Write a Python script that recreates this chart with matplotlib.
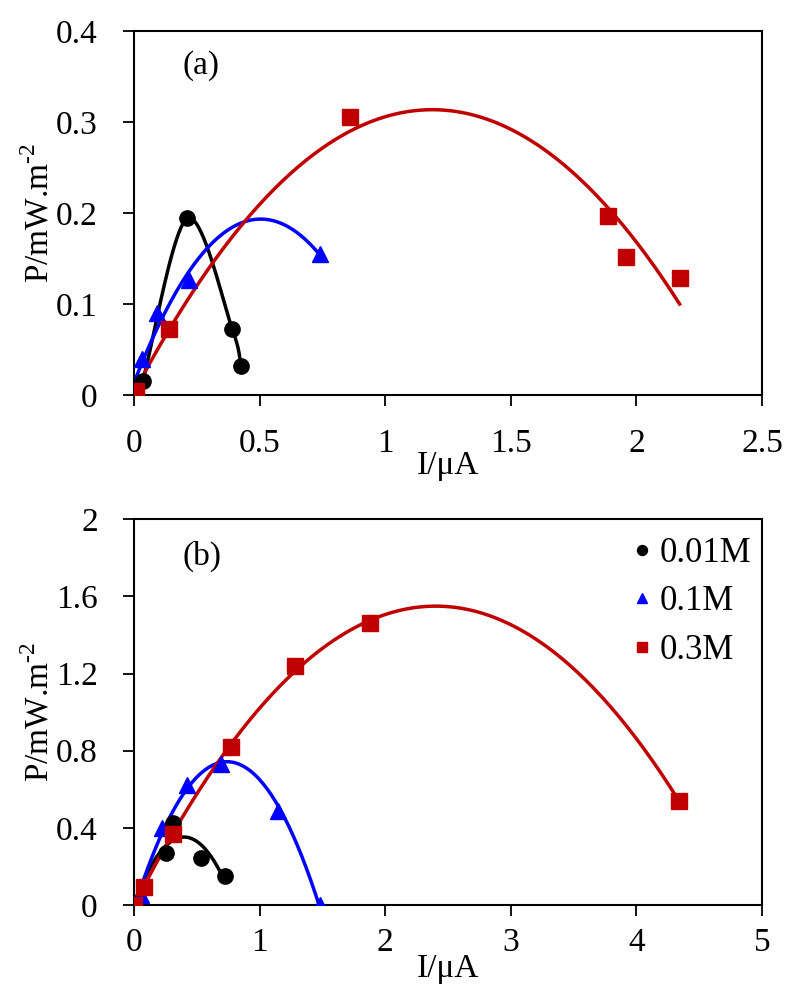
import numpy as np
import matplotlib
matplotlib.use("Agg")
import matplotlib.pyplot as plt

plt.rcParams['font.family'] = ['Liberation Serif', 'DejaVu Serif']
plt.rcParams['mathtext.fontset'] = 'custom'
plt.rcParams['mathtext.rm'] = 'Liberation Serif'

# ---- Panel (a) data ----
a_black_I = [0.0, 0.035, 0.212, 0.391, 0.425]
a_black_P = [0.0, 0.016, 0.194, 0.073, 0.032]
a_blue_I = [0.0, 0.031, 0.09, 0.22, 0.739]
a_blue_P = [0.0, 0.040, 0.090, 0.126, 0.155]
a_red_I = [0.0, 0.01, 0.139, 0.861, 1.887, 1.959, 2.172]
a_red_P = [0.0, 0.005, 0.073, 0.305, 0.197, 0.152, 0.129]

# ---- Panel (b) data ----
b_black_I = [0.0, 0.255, 0.31, 0.537, 0.724]
b_black_P = [0.0, 0.269, 0.425, 0.243, 0.148]
b_blue_I = [0.0, 0.06, 0.22, 0.42, 0.69, 1.15, 1.48]
b_blue_P = [0.0, 0.05, 0.40, 0.62, 0.73, 0.49, 0.0]
b_red_I = [0.0, 0.08, 0.31, 0.77, 1.28, 1.88, 4.34]
b_red_P = [0.0, 0.095, 0.37, 0.82, 1.24, 1.46, 0.54]

labels = ['0.01M', '0.1M', '0.3M']
colors = ['black', '#0000FF', '#C00000']
markers = ['o', '^', 's']

FS = 24

fig = plt.figure(figsize=(7.88, 9.93), dpi=100)
ax_a = fig.add_axes([0.170, 0.602, 0.797, 0.367])
ax_b = fig.add_axes([0.170, 0.0886, 0.797, 0.3884])


def smooth_line(I, P, n=40):
    """Excel-style smoothed line (Bezier through the points)."""
    pts = np.column_stack([I, P])
    ext = np.vstack([pts[0], pts, pts[-1]])
    out = []
    t = np.linspace(0, 1, n)[:, None]
    for k in range(1, len(ext) - 2):
        p0, p1, p2, p3 = ext[k - 1], ext[k], ext[k + 1], ext[k + 2]
        c1 = p1 + (p2 - p0) / 6.0
        c2 = p2 - (p3 - p1) / 6.0
        seg = ((1 - t) ** 3) * p1 + 3 * ((1 - t) ** 2) * t * c1 + 3 * (1 - t) * t ** 2 * c2 + t ** 3 * p2
        out.append(seg)
    out = np.vstack(out)
    return out[:, 0], out[:, 1]


def draw(ax, series, kinds):
    for (I, P), kind, c, m, lab in zip(series, kinds, colors, markers, labels):
        I = np.array(I); P = np.array(P)
        if kind == 'smooth':
            xs, ys = smooth_line(I, P)
        else:
            coef = np.polyfit(I, P, kind)
            xs = np.linspace(0, I.max(), 200)
            ys = np.polyval(coef, xs)
        ax.plot(xs, ys, color=c, lw=2.5, zorder=2)
        ax.plot(I, P, linestyle='none', marker=m, color=c, ms=11, zorder=3, label=lab)


draw(ax_a, [(a_black_I, a_black_P), (a_blue_I, a_blue_P), (a_red_I, a_red_P)], ['smooth', 2, 2])
draw(ax_b, [(b_black_I, b_black_P), (b_blue_I, b_blue_P), (b_red_I, b_red_P)], [2, 2, 2])

for ax in (ax_a, ax_b):
    ax.tick_params(axis='both', direction='out', length=8, width=1.3, labelsize=FS)
    ax.tick_params(axis='y', pad=18)
    for s in ax.spines.values():
        s.set_linewidth(1.5)
    ax.set_ylabel(r'P/mW.m$^{\text{-2}}$', fontsize=FS, labelpad=0)

ax_a.tick_params(axis='x', pad=16)
ax_a.set_xlabel('I/μA', fontsize=FS, labelpad=-6)
ax_b.tick_params(axis='x', pad=8)
ax_b.set_xlabel('I/μA', fontsize=FS, labelpad=-3)

ax_a.set_xlim(0, 2.5); ax_a.set_ylim(0, 0.4)
ax_a.set_xticks([0, 0.5, 1, 1.5, 2, 2.5]); ax_a.set_xticklabels(['0', '0.5', '1', '1.5', '2', '2.5'])
ax_a.set_yticks([0, 0.1, 0.2, 0.3, 0.4]); ax_a.set_yticklabels(['0', '0.1', '0.2', '0.3', '0.4'])
ax_a.text(0.078, 0.905, '(a)', transform=ax_a.transAxes, fontsize=FS, va='center')

ax_b.set_xlim(0, 5); ax_b.set_ylim(0, 2)
ax_b.set_xticks([0, 1, 2, 3, 4, 5])
ax_b.set_yticks([0, 0.4, 0.8, 1.2, 1.6, 2]); ax_b.set_yticklabels(['0', '0.4', '0.8', '1.2', '1.6', '2'])
ax_b.text(0.078, 0.905, '(b)', transform=ax_b.transAxes, fontsize=FS, va='center')
ax_b.legend(loc='upper right', bbox_to_anchor=(1.01, 1.0), frameon=False, fontsize=25,
            handlelength=0.4, handletextpad=0.3, markerscale=0.65, borderaxespad=0.2,
            labelspacing=0.45, borderpad=0.3)

fig.savefig('out.png', dpi=100)
